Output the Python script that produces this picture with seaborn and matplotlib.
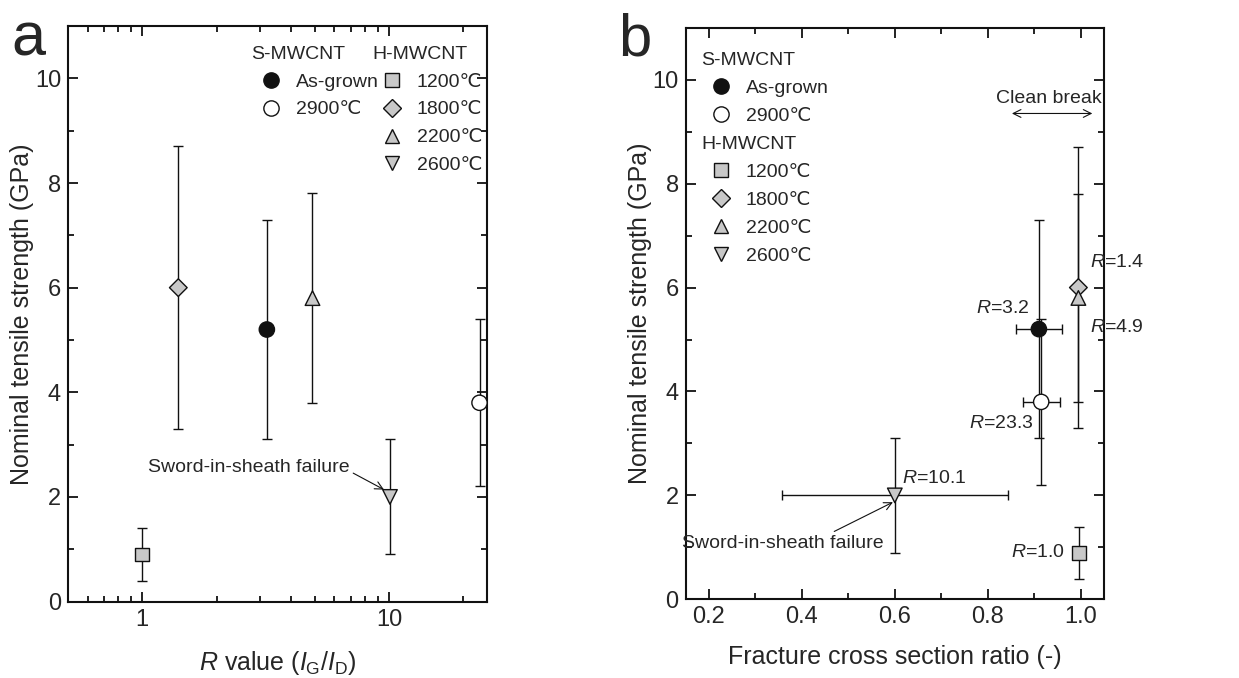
import numpy as np
import pandas as pd
import matplotlib
matplotlib.use("Agg")
import matplotlib.pyplot as plt
from matplotlib.lines import Line2D
from matplotlib.ticker import FixedLocator, NullFormatter
import seaborn as sns

# ---------------- data ----------------
labels = ["As-grown", "2900\u2103", "1200\u2103", "1800\u2103", "2200\u2103", "2600\u2103"]
groups = ["S-MWCNT", "S-MWCNT", "H-MWCNT", "H-MWCNT", "H-MWCNT", "H-MWCNT"]
r_value = [3.2, 23.3, 1.0, 1.4, 4.9, 10.1]
strength = [5.2, 3.8, 0.9, 6.0, 5.8, 2.0]
strength_low = [3.1, 2.2, 0.4, 3.3, 3.8, 0.9]
strength_high = [7.3, 5.4, 1.4, 8.7, 7.8, 3.1]
fracture_ratio = [0.91, 0.915, 0.997, 0.995, 0.995, 0.60]
ratio_err = [0.05, 0.04, 0.0, 0.0, 0.0, 0.243]
r_text = ["3.2", "23.3", "1.0", "1.4", "4.9", "10.1"]

markers = ["o", "o", "s", "D", "^", "v"]
faces = ["#111111", "white", "#c8c8c8", "#c8c8c8", "#c8c8c8", "#c8c8c8"]
msizes = [11.0, 11.0, 10.0, 9.0, 10.5, 10.5]

df = pd.DataFrame(dict(label=labels, group=groups, R=r_value, S=strength,
                       lo=strength_low, hi=strength_high,
                       ratio=fracture_ratio, rerr=ratio_err))

# ---------------- style ----------------
sns.set_theme(style="ticks")
plt.rcParams["font.family"] = ["Liberation Sans", "DejaVu Sans"]
plt.rcParams["mathtext.fontset"] = "custom"
plt.rcParams["mathtext.rm"] = "Liberation Sans"
plt.rcParams["mathtext.it"] = "Liberation Sans:italic"
plt.rcParams["axes.linewidth"] = 1.5
plt.rcParams["axes.edgecolor"] = "#111111"

fig = plt.figure(figsize=(12.39, 6.78), dpi=100)
axA = fig.add_axes([0.0549, 0.1127, 0.3382, 0.8489])
axB = fig.add_axes([0.5534, 0.1160, 0.3376, 0.8431])

TICK_FS = 17
LAB_FS = 18
LEG_FS = 14

marker_map = dict(zip(labels, markers))
palette = dict(zip(labels, faces))
size_map = dict(zip(labels, [m ** 2 for m in msizes]))

def draw(ax, xcol, xerr):
    yerr = np.array([df["S"] - df["lo"], df["hi"] - df["S"]])
    for i in range(len(df)):
        xe = None
        if xerr is not None and df[xerr].iloc[i] > 0:
            xe = df[xerr].iloc[i]
        ax.errorbar(df[xcol].iloc[i], df["S"].iloc[i],
                    yerr=yerr[:, i:i + 1], xerr=xe,
                    fmt="none", ecolor="#111111", elinewidth=1.0,
                    capsize=3.6, capthick=1.0, zorder=2)
    sns.scatterplot(data=df, x=xcol, y="S", hue="label", style="label",
                    size="label", sizes=size_map, markers=marker_map,
                    palette=palette, edgecolor="#111111", linewidth=1.0,
                    legend=False, ax=ax, zorder=3)

draw(axA, "R", None)
draw(axB, "ratio", "rerr")

# ---------------- axes A ----------------
axA.set_xscale("log")
axA.set_xlim(0.5, 25)
axA.set_ylim(0, 11)
axA.xaxis.set_major_locator(FixedLocator([1, 10]))
axA.set_xticklabels(["1", "10"])
axA.xaxis.set_minor_locator(FixedLocator([0.6, 0.7, 0.8, 0.9, 2, 3, 4, 5, 6, 7, 8, 9, 20]))
axA.xaxis.set_minor_formatter(NullFormatter())
axA.set_xlabel(r"$\it{R}$ value ($\it{I}_{\rm G}$/$\it{I}_{\rm D}$)", fontsize=LAB_FS, labelpad=13)

# ---------------- axes B ----------------
axB.set_xlim(0.15, 1.05)
axB.set_ylim(0, 11)
axB.xaxis.set_major_locator(FixedLocator([0.2, 0.4, 0.6, 0.8, 1.0]))
axB.set_xticklabels(["0.2", "0.4", "0.6", "0.8", "1.0"])
axB.xaxis.set_minor_locator(FixedLocator([0.3, 0.5, 0.7, 0.9]))
axB.set_xlabel("Fracture cross section ratio (-)", fontsize=LAB_FS, labelpad=12)

for ax in (axA, axB):
    ax.yaxis.set_major_locator(FixedLocator([0, 2, 4, 6, 8, 10]))
    ax.yaxis.set_minor_locator(FixedLocator([1, 3, 5, 7, 9]))
    ax.set_yticklabels(["0", "2", "4", "6", "8", "10"])
    ax.tick_params(which="both", direction="in", top=True, right=True,
                   color="#111111", width=1.3)
    ax.tick_params(which="major", length=7, labelsize=TICK_FS, pad=5)
    ax.tick_params(which="minor", length=4)
    ax.set_ylabel("Nominal tensile strength (GPa)", fontsize=LAB_FS, labelpad=0.5)
    for s in ax.spines.values():
        s.set_visible(True)

# ---------------- annotations ----------------
arrow_kw = dict(arrowstyle="->", color="#111111", lw=0.8,
                shrinkA=0, shrinkB=0, mutation_scale=14)
axA.annotate("Sword-in-sheath failure", xy=(9.55, 2.14), xytext=(6.95, 2.57),
             fontsize=LEG_FS, ha="right", va="center",
             arrowprops=dict(relpos=(1.0, 0.25), **arrow_kw))

axB.annotate("Sword-in-sheath failure", xy=(0.596, 1.87), xytext=(0.577, 1.08),
             fontsize=LEG_FS, ha="right", va="center",
             arrowprops=dict(relpos=(0.72, 1.0), **arrow_kw))
axB.annotate("", xy=(0.852, 9.35), xytext=(1.025, 9.35),
             arrowprops=dict(arrowstyle="<->", color="#111111", lw=0.8,
                             shrinkA=0, shrinkB=0, mutation_scale=14))
axB.text(0.932, 9.64, "Clean break", fontsize=LEG_FS, ha="center", va="center")

r_pos = {
    "3.2": (0.889, 5.60, "right"),
    "23.3": (0.898, 3.38, "right"),
    "1.0": (0.966, 0.90, "right"),
    "1.4": (1.019, 6.49, "left"),
    "4.9": (1.019, 5.24, "left"),
    "10.1": (0.615, 2.33, "left"),
}
for t in r_text:
    x, y, ha = r_pos[t]
    axB.text(x, y, r"$\it{R}$=" + t, fontsize=LEG_FS, ha=ha, va="center")

# ---------------- legends ----------------
def handle(i):
    return Line2D([], [], ls="none", marker=markers[i], markersize=msizes[i],
                  markerfacecolor=faces[i], markeredgecolor="#111111",
                  markeredgewidth=1.0)

leg_kw = dict(frameon=False, fontsize=LEG_FS, title_fontsize=LEG_FS,
              handlelength=2.0, handletextpad=0.3, labelspacing=0.53,
              borderpad=0, borderaxespad=0, alignment="left", loc="upper left")

s_idx = [0, 1]
h_idx = [2, 3, 4, 5]

# panel a: two side-by-side legend blocks
l1 = axA.legend([handle(i) for i in s_idx], [labels[i] for i in s_idx],
                title="S-MWCNT", bbox_to_anchor=(0.438, 0.966), **leg_kw)
axA.add_artist(l1)
l2 = axA.legend([handle(i) for i in h_idx], [labels[i] for i in h_idx],
                title="H-MWCNT", bbox_to_anchor=(0.726, 0.966), **leg_kw)

# panel b: stacked legend blocks
l3 = axB.legend([handle(i) for i in s_idx], [labels[i] for i in s_idx],
                title="S-MWCNT", bbox_to_anchor=(0.037, 0.957), **leg_kw)
axB.add_artist(l3)
l4 = axB.legend([handle(i) for i in h_idx], [labels[i] for i in h_idx],
                title="H-MWCNT", bbox_to_anchor=(0.037, 0.8105), **leg_kw)

# panel letters
fig.text(0.009, 0.918, "a", fontsize=44, ha="left", va="baseline")
fig.text(0.499, 0.918, "b", fontsize=43, ha="left", va="baseline")

fig.savefig("out.png", dpi=100)
